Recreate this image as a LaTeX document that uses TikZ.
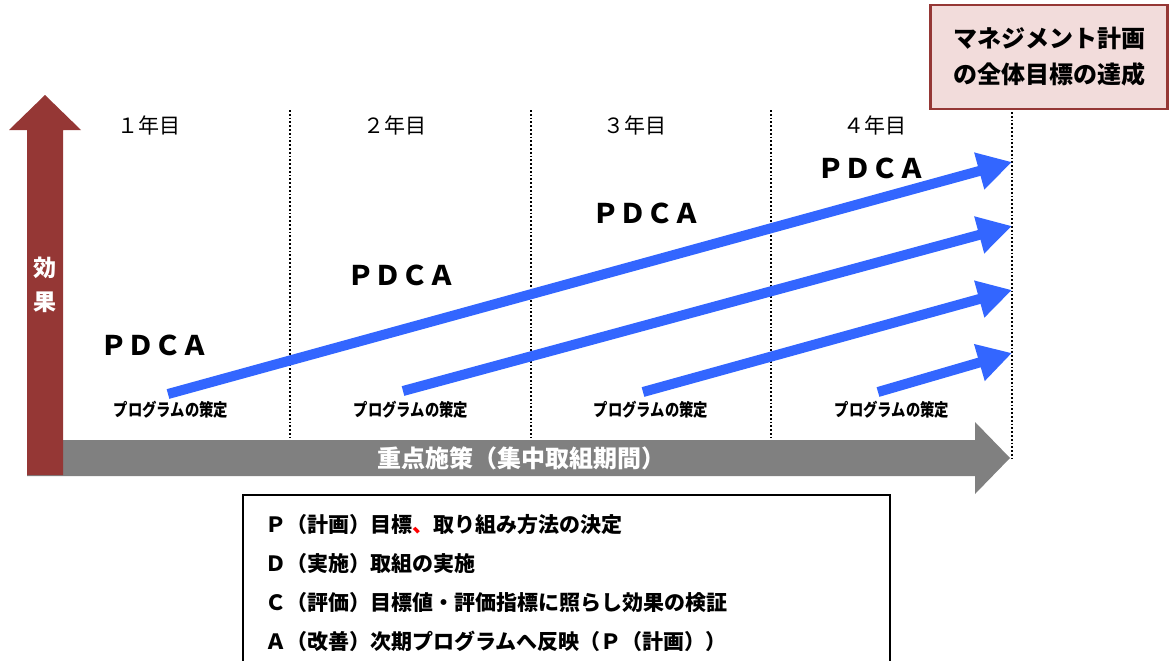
\documentclass[tikz,border=0pt]{standalone}
\usepackage{fontspec}
\setmainfont{Noto Sans CJK JP}
\newfontfamily\cjk{Noto Sans CJK JP}
\usetikzlibrary{arrows.meta}
\definecolor{effred}{HTML}{953735}
\definecolor{pinkfill}{HTML}{F2DCDB}
\definecolor{pdcablue}{HTML}{3366FF}
\definecolor{bargray}{HTML}{808080}
\tikzset{
  yearlbl/.style={font=\cjk\fontsize{21}{23}\selectfont, inner sep=0pt},
  pdcalbl/.style={font=\cjk\fontsize{27}{29}\selectfont\bfseries, inner sep=0pt},
  proglbl/.style={font=\cjk\fontsize{17.5}{19}\selectfont\bfseries, inner sep=0pt, xscale=0.82},
  divider/.style={dotted, line width=1.8pt, black},
  pdcaarrow/.style={draw=pdcablue, line width=10pt, -{Triangle[length=34pt,width=36pt]}},
  legendtxt/.style={font=\cjk\fontsize{21}{23}\selectfont\bfseries, inner sep=0pt, anchor=west},
}
\begin{document}
\begin{tikzpicture}[x=1pt,y=-1pt]
\useasboundingbox (0,0) rectangle (1173,661);
% gray bar arrow
\fill[bargray] (27,440) -- (975,440) -- (975,422) -- (1010,458) -- (975,494) -- (975,476) -- (27,476) -- cycle;
\node[font=\cjk\fontsize{24}{26}\selectfont\bfseries, text=white, inner sep=0pt] (bar) at (521,458) {重点施策（集中取組期間）};
% red effect arrow
\fill[effred] (27,475) -- (27,130) -- (9,130) -- (45,95) -- (81,130) -- (63,130) -- (63,475) -- cycle;
\node[font=\cjk\fontsize{23}{25}\selectfont\bfseries, text=white, inner sep=0pt] (ef1) at (45,268) {効};
\node[font=\cjk\fontsize{23}{25}\selectfont\bfseries, text=white, inner sep=0pt] (ef2) at (45,302) {果};
% dividers
\coordinate (d1t) at (290,110); \coordinate (d1b) at (290,438);
\coordinate (d2t) at (531,110); \coordinate (d2b) at (531,438);
\coordinate (d3t) at (771,110); \coordinate (d3b) at (771,438);
\coordinate (d4t) at (1012,112); \coordinate (d4b) at (1012,458);
\draw[divider] (d1t) -- (d1b);
\draw[divider] (d2t) -- (d2b);
\draw[divider] (d3t) -- (d3b);
\draw[divider] (d4t) -- (d4b);
% years
\node[yearlbl] (y1) at (149,125) {１年目};
\node[yearlbl] (y2) at (395,125) {２年目};
\node[yearlbl] (y3) at (635,125) {３年目};
\node[yearlbl] (y4) at (875,125) {４年目};
% PDCA labels
\node[pdcalbl] (p1) at (154,345) {ＰＤＣＡ};
\node[pdcalbl] (p2) at (401,275) {ＰＤＣＡ};
\node[pdcalbl] (p3) at (646,213) {ＰＤＣＡ};
\node[pdcalbl] (p4) at (871,168) {ＰＤＣＡ};
% program labels
\node[proglbl] (g1) at (171,410) {プログラムの策定};
\node[proglbl] (g2) at (411,410) {プログラムの策定};
\node[proglbl] (g3) at (651,410) {プログラムの策定};
\node[proglbl] (g4) at (892,410) {プログラムの策定};
% arrows
\coordinate (s1) at (168,394); \coordinate (t1) at (1012,162);
\coordinate (s2) at (403,391); \coordinate (t2) at (1012,226);
\coordinate (s3) at (643,392); \coordinate (t3) at (1012,290);
\coordinate (s4) at (878,392); \coordinate (t4) at (1012,353);
\draw[pdcaarrow] (s1) -- (t1);
\draw[pdcaarrow] (s2) -- (t2);
\draw[pdcaarrow] (s3) -- (t3);
\draw[pdcaarrow] (s4) -- (t4);
% goal box
\node[draw=effred, line width=2.5pt, fill=pinkfill, minimum width=237pt, minimum height=104pt, inner sep=0pt, align=center,
      font=\cjk\fontsize{24}{36}\selectfont\bfseries] (goal) at (1049,57) {マネジメント計画\\の全体目標の達成};
% legend box
\draw[black, line width=2pt] (243,670) -- (243,495) -- (890,495) -- (890,670);
\node[legendtxt] (l1) at (265,525) {Ｐ（計画）目標\textcolor{red}{、}取り組み方法の決定};
\node[legendtxt] (l2) at (265,564) {Ｄ（実施）取組の実施};
\node[legendtxt] (l3) at (265,603) {Ｃ（評価）目標値・評価指標に照らし効果の検証};
\node[legendtxt] (l4) at (265,641) {Ａ（改善）次期プログラムへ反映（Ｐ（計画））};
\end{tikzpicture}
\end{document}
